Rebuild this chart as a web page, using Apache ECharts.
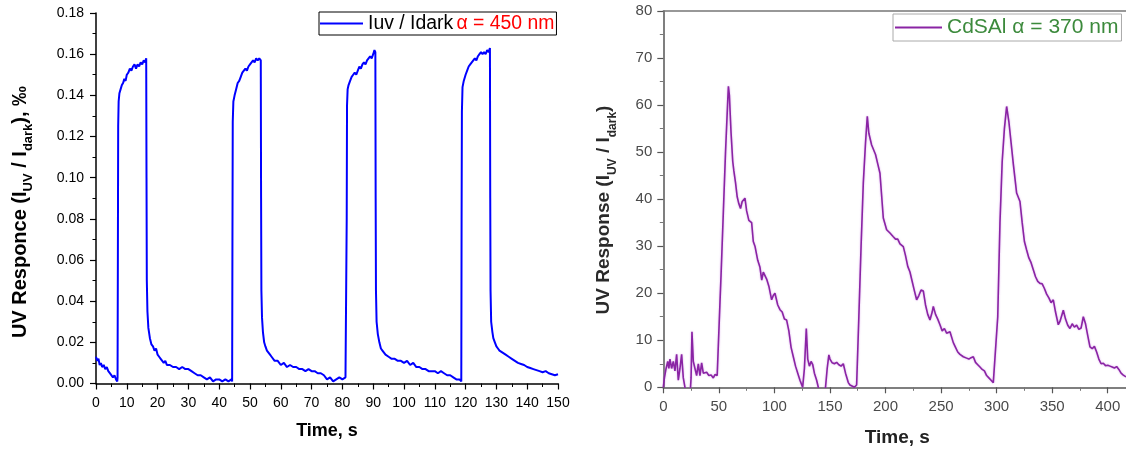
<!DOCTYPE html>
<html>
<head>
<meta charset="utf-8">
<script src="https://cdn.jsdelivr.net/npm/echarts/dist/echarts.min.js"></script>
<style>
  html, body { margin: 0; padding: 0; background: #fff; }
  #main { width: 1126px; height: 450px; }
</style>
</head>
<body>
<div id="main"></div>
<script>
// left panel: Iuv / Idark, 450 nm
const timeBlue = [
  0, 0.4, 0.8, 1.2, 1.6, 2, 2.5, 3, 3.5, 4, 4.5, 5, 5.5, 6, 6.5, 6.9,
  7, 7.1, 7.2, 7.35, 7.6, 8, 8.4, 8.8, 9.2, 9.6, 10, 10.5, 11, 11.5, 12, 12.5, 13, 13.5, 14, 14.5, 15, 15.5, 16, 16.3,
  16.4, 16.5, 16.7, 17, 17.5, 18, 18.5, 19, 19.5, 20, 20.5, 21, 21.5, 22, 22.5, 23, 24, 25, 26, 27, 28, 29, 30,
  31, 32, 33, 34, 35, 36, 37, 38, 39, 40, 41, 42, 43, 44, 44.2,
  44.3, 44.4, 44.6, 45, 45.5, 46, 46.5, 47, 47.5, 48, 48.5, 49, 49.5, 50, 50.5, 51, 51.5, 52, 52.5, 53, 53.5,
  53.6, 53.7, 53.9, 54.2, 54.6, 55, 55.5, 56, 56.5, 57, 58, 59, 60, 61, 62, 63, 64, 65, 66, 67, 68, 69, 70,
  71, 72, 73, 74, 75, 76, 77, 78, 79, 80, 81, 81.3,
  81.4, 81.5, 81.7, 82, 82.5, 83, 83.5, 84, 84.5, 85, 85.5, 86, 86.5, 87, 87.5, 88, 88.5, 89, 89.5, 90, 90.4, 90.7,
  90.8, 90.9, 91.1, 91.5, 92, 92.5, 93, 93.5, 94, 95, 96, 97, 98, 99, 100, 101, 102, 103, 104, 105, 106, 107,
  108, 109, 110, 111, 112, 113, 114, 115, 116, 117, 118, 118.6,
  118.7, 118.8, 119, 119.4, 120, 120.5, 121, 121.5, 122, 122.5, 123, 123.5, 124, 124.5, 125, 125.5, 126, 126.5, 127, 127.5, 127.9,
  128, 128.1, 128.3, 128.7, 129, 129.5, 130, 130.5, 131, 132, 133, 134, 135, 136, 137, 138, 139, 140, 141, 142,
  143, 144, 145, 146, 147, 148, 149, 150
];
const valueBlue = [
  0.013, 0.011, 0.012, 0.009, 0.010, 0.008, 0.009, 0.007, 0.008, 0.006, 0.005, 0.005, 0.003, 0.004, 0.002, 0.001,
  0.003, 0.060, 0.125, 0.137, 0.141, 0.143, 0.145, 0.146, 0.148, 0.147, 0.150, 0.151, 0.153, 0.152, 0.154, 0.155, 0.153, 0.155, 0.154, 0.156, 0.155, 0.157, 0.156, 0.158,
  0.100, 0.050, 0.035, 0.027, 0.022, 0.019, 0.018, 0.016, 0.017, 0.014, 0.013, 0.012, 0.011, 0.010, 0.011, 0.009, 0.009, 0.008, 0.008, 0.007, 0.008, 0.007, 0.007,
  0.006, 0.005, 0.004, 0.004, 0.003, 0.002, 0.003, 0.001, 0.002, 0.002, 0.001, 0.002, 0.001, 0.002, 0.001,
  0.070, 0.127, 0.137, 0.140, 0.143, 0.146, 0.147, 0.149, 0.151, 0.152, 0.153, 0.152, 0.154, 0.155, 0.156, 0.157, 0.156, 0.158, 0.157, 0.158, 0.157,
  0.090, 0.045, 0.032, 0.025, 0.020, 0.018, 0.016, 0.015, 0.014, 0.013, 0.011, 0.011, 0.009, 0.010, 0.008, 0.009, 0.008, 0.008, 0.007, 0.007, 0.006, 0.007, 0.006,
  0.006, 0.005, 0.005, 0.004, 0.002, 0.003, 0.001, 0.002, 0.003, 0.002, 0.003, 0.003,
  0.080, 0.135, 0.143, 0.145, 0.147, 0.149, 0.150, 0.151, 0.150, 0.152, 0.154, 0.153, 0.155, 0.156, 0.155, 0.157, 0.158, 0.159, 0.158, 0.160, 0.162, 0.161,
  0.090, 0.045, 0.030, 0.024, 0.020, 0.017, 0.016, 0.015, 0.014, 0.013, 0.012, 0.012, 0.011, 0.011, 0.010, 0.011, 0.009, 0.010, 0.008, 0.008, 0.007, 0.007,
  0.006, 0.006, 0.006, 0.005, 0.006, 0.005, 0.004, 0.004, 0.003, 0.002, 0.002, 0.001,
  0.080, 0.132, 0.144, 0.147, 0.150, 0.152, 0.154, 0.155, 0.156, 0.157, 0.158, 0.157, 0.159, 0.160, 0.161, 0.160, 0.161, 0.160, 0.162, 0.161, 0.163,
  0.090, 0.045, 0.030, 0.025, 0.022, 0.020, 0.018, 0.017, 0.016, 0.015, 0.014, 0.013, 0.012, 0.011, 0.010, 0.0095, 0.009, 0.008, 0.0075, 0.007,
  0.0065, 0.006, 0.0055, 0.006, 0.005, 0.0045, 0.004, 0.0045
];

// right panel: CdSAl, 370 nm
const timePurple = [
  0, 1, 2.5, 4, 5, 6, 7.5, 9, 10.5, 12, 13.5, 15, 16.5, 18, 19.5, 21, 24, 25, 25.8, 27, 28.5, 30, 31.5, 33, 34.5,
  36, 37.5, 39, 41, 43, 45, 46.5, 48.5, 51, 52, 54, 56, 58, 58.6, 59.5, 61, 62.5, 63.5, 65, 66.5, 68, 69.5, 71, 73.5,
  75, 77, 79.5, 81, 82.5, 85, 87, 88.6, 90, 91.6, 93, 95, 97.5, 99, 100.5, 103, 105, 107, 109, 111, 113, 115, 117,
  119, 121, 123, 125.4, 127, 128.7, 130, 131.5, 133, 134.5, 136, 138, 139.5, 140.5, 144.5, 146, 147.5, 149, 150, 152,
  154, 156, 158, 160, 162, 164, 166.5, 168, 172, 174, 176, 178, 180, 182, 183.6, 185, 187.5, 189, 191, 193, 195,
  198, 201, 204, 207, 209, 211, 213, 216, 218, 220, 222, 224, 226, 228, 230, 232, 234, 236, 238, 240, 242, 243,
  245, 247, 249, 251, 253, 255, 258, 261, 263, 265, 267, 270, 273, 275, 277, 279, 281, 283, 285, 287, 289, 291,
  293, 295, 297, 298.6, 301, 303, 305, 307, 309, 311, 313, 315, 318, 321, 323, 325, 327, 329, 331, 333, 335, 337,
  339, 341, 343, 345, 347, 349, 351, 353, 355.5, 357, 360, 362, 364, 366, 368, 370, 372, 374, 376, 378, 380, 382,
  384, 386, 388, 390, 392, 394, 396, 398, 400, 402, 404, 406, 408, 410, 412, 414, 416.5
];
const valuePurple = [
  0, 2, 4, 5.5, 4, 6, 4, 5.5, 3.5, 7, 1.5, 4, 7, 2, 0, -2, -2, 2, 11.8, 5.5, 4, 2.5, 5, 2.5, 5.2,
  3, 2.6, 3.2, 2.5, 2.6, 2, 2.7, 2.5, 18, 24, 37, 50, 61, 64, 62, 54, 48, 46, 43.5, 40.5, 39, 38, 39.5, 40.2,
  37.5, 35.5, 35, 31, 30, 27, 25.5, 22.8, 24.5, 24.6, 23, 21.5, 18.6, 19.5, 20, 17.5, 16.5, 16, 14.5, 14.3, 12, 8.5, 6.5,
  4.5, 3, 1.5, 0, 4, 12.5, 6, 4.5, 5.5, 4.8, 3, 1.5, 0, -2, -2, 0, 4, 6.9, 6, 5.2,
  5, 5.3, 4.8, 4.5, 5, 3, 1, 0.5, 0, 0.5, 15, 30, 43.4, 52, 57.6, 54, 51.5, 51.8, 49.5, 47.5, 45.5,
  36, 33.5, 32.8, 32, 31.5, 31.5, 30.5, 29.9, 28, 25.7, 24.5, 22.5, 20.5, 18.6, 19.5, 20.7, 20.5, 17.5, 15.5, 14.3, 16, 17.2,
  15.5, 14.5, 13.3, 12, 12.5, 11.5, 11.8, 9.5, 8.5, 7.5, 7, 6.5, 6.2, 6, 6.3, 6.5, 5.3, 4.8, 4.3, 3.8, 3.5, 2.5,
  2, 1.5, 1, 0.8, 15, 35, 48, 55, 59.7, 56.5, 52, 47.5, 41.3, 39.5, 35, 31, 29.2, 27.5, 26.5, 25, 23.5, 22.5,
  22.1, 22, 21, 19.8, 19, 18, 18.6, 16, 13.3, 14, 16.4, 14.5, 13.2, 12.5, 13.5, 12.8, 13.2, 12.3, 12.6, 15, 13.5, 11,
  8.6, 8.2, 8.7, 7.5, 6, 5, 5.1, 4.6, 4.7, 4.5, 4.3, 4.1, 4.4, 3.8, 3, 2.6, 2.2
];

const leftTicks = [0, 0.02, 0.04, 0.06, 0.08, 0.10, 0.12, 0.14, 0.16, 0.18];

const blueData = timeBlue.map((t, i) => [t, valueBlue[i]]);
const purpleData = timePurple.map((t, i) => [t, valuePurple[i]]);

const arial = 'Arial, "Liberation Sans", sans-serif';
const chart = echarts.init(document.getElementById('main'));

const option = {
  animation: false,
  backgroundColor: '#fff',
  grid: [
    { left: 96, top: 13, right: 568, bottom: 66.5, outerBoundsMode: 'none' },
    // right panel continues past the picture edge, as in the source
    { left: 663.3, top: 11, right: -37.3, bottom: 62.7, outerBoundsMode: 'none' }
  ],
  legend: [
    {
      data: ['Iuv / Idark'],
      left: 319,
      top: 12,
      padding: [2, 2, 2, 1],
      borderColor: '#000',
      borderWidth: 1,
      icon: 'rect',
      itemWidth: 43,
      itemHeight: 2,
      formatter: () => '{a|Iuv / Idark} {r|α = 450 nm}',
      textStyle: {
        rich: {
          a: { color: '#000', fontSize: 19.4, fontFamily: arial },
          r: { color: '#ff0000', fontSize: 19.4, fontFamily: arial }
        }
      }
    },
    {
      data: ['CdSAl'],
      left: 893,
      top: 14,
      padding: [3, 3, 3, 2],
      borderColor: '#aaa',
      borderWidth: 1,
      icon: 'rect',
      itemWidth: 47,
      itemHeight: 2,
      formatter: () => 'CdSAl α = 370 nm',
      textStyle: { color: '#3c8a3c', fontSize: 21, fontFamily: arial }
    }
  ],
  xAxis: [
    {
      gridIndex: 0,
      type: 'value',
      min: 0,
      max: 150,
      interval: 10,
      name: 'Time, s',
      nameLocation: 'middle',
      nameGap: 39,
      nameTextStyle: { color: '#000', fontSize: 18, fontWeight: 'bold', fontFamily: arial },
      axisLine: { lineStyle: { color: '#000', width: 1.5 } },
      axisTick: { length: 6, lineStyle: { color: '#000', width: 1.2 } },
      minorTick: { show: true, splitNumber: 2, length: 3.5, lineStyle: { color: '#000', width: 1 } },
      splitLine: { show: false },
      axisLabel: { color: '#000', fontSize: 14, fontFamily: arial, margin: 13 }
    },
    {
      gridIndex: 1,
      type: 'value',
      min: 0,
      max: 450,
      interval: 50,
      name: 'Time, s',
      nameLocation: 'middle',
      nameGap: 41,
      // the visible panel ends at the picture edge, so pull the title left
      nameTextStyle: { color: '#222', fontSize: 19, fontWeight: 'bold', fontFamily: arial, padding: [0, 32, 0, 0] },
      axisLine: { lineStyle: { color: '#555', width: 1.5 } },
      axisTick: { length: 6, lineStyle: { color: '#555', width: 1.2 } },
      minorTick: { show: true, splitNumber: 2, length: 3.5, lineStyle: { color: '#777', width: 1 } },
      splitLine: { show: false },
      axisLabel: { color: '#4a4a4a', fontSize: 15, fontFamily: arial, margin: 12 }
    },
    {
      // top frame line of the right panel
      gridIndex: 1,
      type: 'value',
      position: 'top',
      min: 0,
      max: 450,
      axisLine: { lineStyle: { color: '#777', width: 1.5 } },
      axisTick: { show: false },
      axisLabel: { show: false },
      splitLine: { show: false }
    }
  ],
  yAxis: [
    {
      gridIndex: 0,
      type: 'value',
      min: 0,
      max: 0.18,
      interval: 0.02,
      axisLine: { show: true, lineStyle: { color: '#000', width: 1.5 } },
      axisTick: { show: true, length: 6, lineStyle: { color: '#000', width: 1.2 } },
      minorTick: { show: true, splitNumber: 2, length: 3.5, lineStyle: { color: '#000', width: 1 } },
      splitLine: { show: false },
      axisLabel: {
        color: '#000', fontSize: 14, fontFamily: arial, margin: 12,
        formatter: v => leftTicks.find(t => Math.abs(t - v) < 1e-6).toFixed(2)
      }
    },
    {
      gridIndex: 1,
      type: 'value',
      min: 0,
      max: 80,
      interval: 10,
      axisLine: { show: true, lineStyle: { color: '#555', width: 1.5 } },
      axisTick: { show: true, length: 6, lineStyle: { color: '#555', width: 1.2 } },
      minorTick: { show: true, splitNumber: 2, length: 3.5, lineStyle: { color: '#777', width: 1 } },
      splitLine: { show: false },
      axisLabel: { color: '#4a4a4a', fontSize: 15, fontFamily: arial, margin: 11 }
    }
  ],
  graphic: [
    {
      type: 'text',
      x: 20,
      y: 212,
      rotation: Math.PI / 2,
      style: {
        text: '{b|UV Responce (I}{s|UV}{b| / I}{s|dark}{b|), ‰}',
        align: 'center',
        verticalAlign: 'middle',
        rich: {
          b: { fontSize: 20, fontWeight: 'bold', fontFamily: arial, fill: '#000', lineHeight: 22 },
          s: { fontSize: 13, fontWeight: 'bold', fontFamily: arial, fill: '#000', lineHeight: 30, verticalAlign: 'bottom' }
        }
      }
    },
    {
      type: 'text',
      x: 604,
      y: 210,
      rotation: Math.PI / 2,
      style: {
        text: '{b|UV Response (I}{s|UV}{b| / I}{s|dark}{b|)}',
        align: 'center',
        verticalAlign: 'middle',
        rich: {
          b: { fontSize: 19, fontWeight: 'bold', fontFamily: arial, fill: '#2a2a2a', lineHeight: 22 },
          s: { fontSize: 12, fontWeight: 'bold', fontFamily: arial, fill: '#2a2a2a', lineHeight: 30, verticalAlign: 'bottom' }
        }
      }
    }
  ],
  series: [
    {
      name: 'Iuv / Idark',
      type: 'line',
      xAxisIndex: 0,
      yAxisIndex: 0,
      data: blueData,
      showSymbol: false,
      lineStyle: { color: '#0000ff', width: 2 },
      itemStyle: { color: '#0000ff' }
    },
    {
      name: 'CdSAl',
      type: 'line',
      xAxisIndex: 1,
      yAxisIndex: 1,
      data: purpleData,
      showSymbol: false,
      clip: true,
      lineStyle: { color: '#8a24a4', width: 1.6, shadowColor: 'rgba(190,110,220,0.6)', shadowBlur: 2 },
      itemStyle: { color: '#8a24a4' }
    }
  ]
};
chart.setOption(option);
</script>
</body>
</html>
